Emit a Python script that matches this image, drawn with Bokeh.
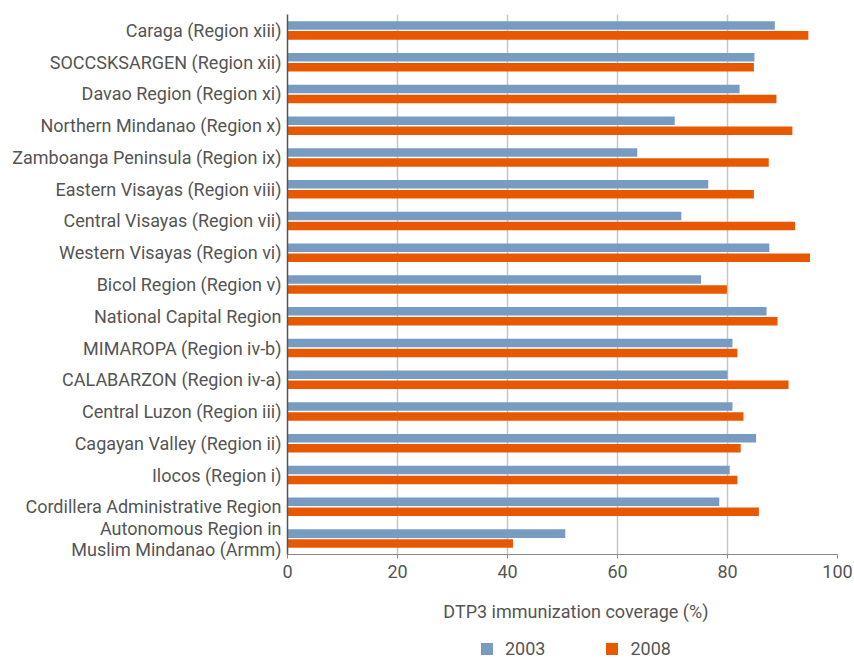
from bokeh.plotting import figure
from bokeh.layouts import column
from bokeh.models import Legend, LegendItem, FixedTicker, ColumnDataSource
from bokeh.transform import dodge
from bokeh.embed import file_html
from bokeh.resources import INLINE

# Data (bottom to top)
regions = [
    "Autonomous Region in\nMuslim Mindanao (Armm)",
    "Cordillera Administrative Region",
    "Ilocos (Region i)",
    "Cagayan Valley (Region ii)",
    "Central Luzon (Region iii)",
    "CALABARZON (Region iv-a)",
    "MIMAROPA (Region iv-b)",
    "National Capital Region",
    "Bicol Region (Region v)",
    "Western Visayas (Region vi)",
    "Central Visayas (Region vii)",
    "Eastern Visayas (Region viii)",
    "Zamboanga Peninsula (Region ix)",
    "Northern Mindanao (Region x)",
    "Davao Region (Region xi)",
    "SOCCSKSARGEN (Region xii)",
    "Caraga (Region xiii)",
]
cov_2003 = [50.5, 78.5, 80.4, 85.2, 80.9, 80.0, 80.9, 87.1, 75.2, 87.6, 71.6, 76.5, 63.6, 70.4, 82.2, 84.9, 88.6]
cov_2008 = [41.0, 85.7, 81.8, 82.4, 82.9, 91.1, 81.8, 89.1, 79.9, 95.0, 92.3, 84.8, 87.5, 91.8, 88.9, 84.8, 94.7]
years = ["2003", "2008"]
x_ticks = [0, 20, 40, 60, 80, 100]
x_title = "DTP3 immunization coverage (%)"

BLUE = "#789CC1"
ORANGE = "#E85800"
TEXT = "#555555"
FONT = "Roboto"

src = ColumnDataSource(dict(region=regions, v2003=cov_2003, v2008=cov_2008))

p = figure(
    width=854, height=630,
    y_range=regions, x_range=(0, 100),
    output_backend="svg", toolbar_location=None,
    min_border_left=287, min_border_right=17,
    min_border_top=14, min_border_bottom=76,
)
p.outline_line_color = None

r1 = p.hbar(y=dodge("region", 0.157, range=p.y_range), right="v2003", left=0,
            height=0.268, source=src, fill_color=BLUE, line_color=None)
r2 = p.hbar(y=dodge("region", -0.157, range=p.y_range), right="v2008", left=0,
            height=0.268, source=src, fill_color=ORANGE, line_color=None)

# grids
p.ygrid.grid_line_color = None
p.xgrid.ticker = FixedTicker(ticks=x_ticks)
p.xgrid.grid_line_color = "#c6c6c6"
p.xgrid.grid_line_width = 1.5

# x axis
p.xaxis.ticker = FixedTicker(ticks=x_ticks)
p.xaxis.axis_line_color = "#8a8a8a"
p.xaxis.major_tick_line_color = "#8a8a8a"
p.xaxis.major_tick_out = 4
p.xaxis.major_tick_in = 0
p.xaxis.minor_tick_line_color = None
p.xaxis.major_label_text_font = FONT
p.xaxis.major_label_text_font_size = "18px"
p.xaxis.major_label_text_color = TEXT
p.xaxis.major_label_standoff = 6
p.xaxis.axis_label = "\u00a0" * 6 + x_title
p.xaxis.axis_label_text_font = FONT
p.xaxis.axis_label_text_font_size = "18px"
p.xaxis.axis_label_text_font_style = "normal"
p.xaxis.axis_label_text_color = TEXT
p.xaxis.axis_label_standoff = 20

# y axis
p.yaxis.axis_line_color = "#555555"
p.yaxis.axis_line_width = 1.5
p.yaxis.major_tick_line_color = None
p.yaxis.major_tick_out = 0
p.yaxis.major_tick_in = 0
p.yaxis.major_label_text_font = FONT
p.yaxis.major_label_text_font_size = "18px"
p.yaxis.major_label_text_line_height = 1.0
p.yaxis.major_label_text_color = TEXT
p.yaxis.major_label_standoff = 6

# legend strip below the chart (frame is aligned with the main chart's frame)
lg = figure(width=854, height=29, x_range=(0, 100), y_range=(0, 1),
            x_axis_type=None, y_axis_type=None,
            output_backend="svg", toolbar_location=None,
            min_border_left=287, min_border_right=17, min_border_top=0, min_border_bottom=0)
lg.outline_line_color = None
lg.xgrid.visible = False
lg.ygrid.visible = False
# zero-length proxy bars that only carry the legend swatches
e1 = lg.hbar(y=[0.5], left=[0], right=[0], height=0, fill_color=BLUE, line_color=None)
e2 = lg.hbar(y=[0.5], left=[0], right=[0], height=0, fill_color=ORANGE, line_color=None)
legend = Legend(
    items=[LegendItem(label=years[0], renderers=[e1]),
           LegendItem(label=years[1], renderers=[e2])],
    location=(192, 0), orientation="horizontal",
    glyph_width=15, glyph_height=15, label_height=15,
    label_standoff=11, spacing=59, padding=0, margin=0,
    label_text_font=FONT, label_text_font_size="18px", label_text_color=TEXT,
    border_line_color=None, background_fill_alpha=0,
)
lg.add_layout(legend)

layout = column(p, lg, spacing=0)
open("out.html", "w").write(file_html(layout, INLINE))
